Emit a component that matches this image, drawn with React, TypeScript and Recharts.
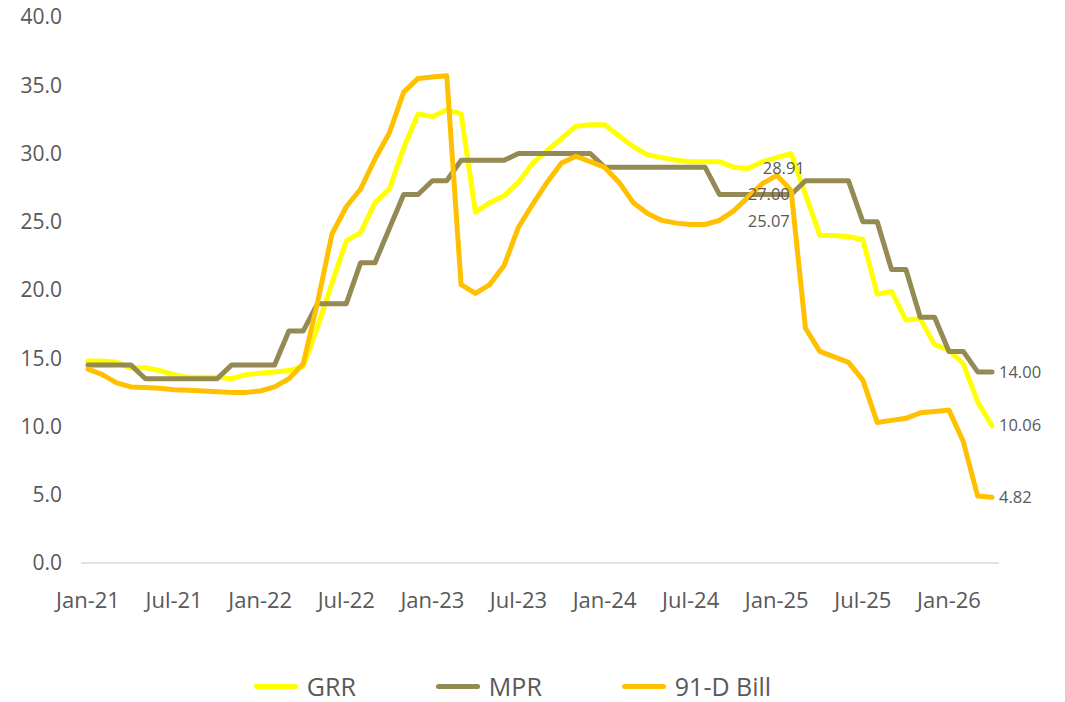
import React from "react";
import { LineChart, Line, XAxis, YAxis, Legend, ReferenceDot } from "recharts";

const monthNames = ["Jan", "Feb", "Mar", "Apr", "May", "Jun", "Jul", "Aug", "Sep", "Oct", "Nov", "Dec"];
const years = ["21", "22", "23", "24", "25", "26"];
const pointCount = 64;
const months: string[] = [];
for (const y of years) for (const m of monthNames) months.push(`${m}-${y}`);
const categories = months.slice(0, pointCount);

const grr = [
  14.8, 14.8, 14.7, 14.3, 14.3, 14.1, 13.8, 13.6, 13.6, 13.6, 13.5, 13.8,
  13.9, 14.0, 14.1, 14.4, 17.3, 20.5, 23.6, 24.2, 26.4, 27.4, 30.4, 32.9,
  32.7, 33.2, 32.9, 25.7, 26.4, 26.9, 27.9, 29.3, 30.2, 31.1, 32.0, 32.1,
  32.1, 31.3, 30.5, 29.9, 29.7, 29.5, 29.4, 29.4, 29.4, 29.0, 28.9, 29.4,
  29.7, 30.0, 27.0, 24.0, 24.0, 23.9, 23.7, 19.7, 19.9, 17.8, 17.9, 16.0,
  15.6, 14.6, 11.8, 10.06,
];

const mpr = [
  14.5, 14.5, 14.5, 14.5, 13.5, 13.5, 13.5, 13.5, 13.5, 13.5, 14.5, 14.5,
  14.5, 14.5, 17.0, 17.0, 19.0, 19.0, 19.0, 22.0, 22.0, 24.5, 27.0, 27.0,
  28.0, 28.0, 29.5, 29.5, 29.5, 29.5, 30.0, 30.0, 30.0, 30.0, 30.0, 30.0,
  29.0, 29.0, 29.0, 29.0, 29.0, 29.0, 29.0, 29.0, 27.0, 27.0, 27.0, 27.0,
  27.0, 27.0, 28.0, 28.0, 28.0, 28.0, 25.0, 25.0, 21.5, 21.5, 18.0, 18.0,
  15.5, 15.5, 14.0, 14.0,
];

const bill91 = [
  14.2, 13.8, 13.2, 12.9, 12.85, 12.8, 12.7, 12.65, 12.6, 12.55, 12.5, 12.5,
  12.6, 12.9, 13.5, 14.6, 19.1, 24.1, 26.1, 27.4, 29.6, 31.5, 34.5, 35.5,
  35.6, 35.7, 20.4, 19.75, 20.4, 21.8, 24.6, 26.3, 27.9, 29.3, 29.8, 29.4,
  29.0, 27.9, 26.4, 25.6, 25.1, 24.9, 24.8, 24.8, 25.1, 25.8, 26.8, 27.8,
  28.4, 27.3, 17.2, 15.5, 15.1, 14.7, 13.4, 10.3, 10.45, 10.6, 11.0, 11.1,
  11.2, 8.9, 4.9, 4.82,
];

const yTicks = [0, 5, 10, 15, 20, 25, 30, 35, 40];
const annotationCategory = "Jan-25";
const annotationValues = [28.91, 27.0, 25.07];
const annotationShift = [7, -8, -8];

const seriesNames = ["GRR", "MPR", "91-D Bill"];
const seriesColors = ["#FFFF00", "#948A54", "#FFC000"];

const data = categories.map((c, i) => ({
  month: c,
  grr: grr[i],
  mpr: mpr[i],
  bill: bill91[i],
}));

const FONT = "'Open Sans', 'Liberation Sans', sans-serif";
const TEXT = "#595959";

const endLabel = (decimals: number) => (props: any) => {
  const { x, y, index, value } = props;
  if (index !== pointCount - 1) return null;
  return (
    <text
      x={x + 7}
      y={y}
      dy="0.35em"
      fill={TEXT}
      fontSize={16.5}
      fontFamily={FONT}
      textAnchor="start"
    >
      {Number(value).toFixed(decimals)}
    </text>
  );
};

const LegendContent = () => (
  <div
    style={{
      height: 40,
      paddingTop: 8,
      boxSizing: "border-box",
      display: "flex",
      justifyContent: "center",
      alignItems: "center",
      paddingLeft: 18,
      fontFamily: FONT,
      fontSize: 25,
      color: TEXT,
    }}
  >
    {seriesNames.map((n, i) => (
      <div
        key={n}
        style={{ display: "flex", alignItems: "center", marginLeft: i === 0 ? 0 : 80 }}
      >
        <div
          style={{
            width: 44,
            height: 5,
            borderRadius: 3,
            background: seriesColors[i],
            marginRight: 9,
          }}
        />
        <span style={{ lineHeight: "28px" }}>{n}</span>
      </div>
    ))}
  </div>
);

export default function App() {
  return (
    <div style={{ width: 1057, height: 702, marginTop: -8, background: "#fff" }}>
      <LineChart
        width={1057}
        height={702}
        data={data}
        margin={{ top: 17, right: 66, left: 0, bottom: 0 }}
      >
        <XAxis
          dataKey="month"
          interval={5}
          padding={{ left: 7, right: 7 }}
          axisLine={{ stroke: "#D9D9D9", strokeWidth: 1.5 }}
          tickLine={false}
          tickMargin={23}
          height={99}
          tick={{ fill: TEXT, fontSize: 22, fontFamily: FONT }}
        />
        <YAxis
          width={73}
          domain={[0, 40]}
          ticks={yTicks}
          interval={0}
          axisLine={false}
          tickLine={false}
          tickMargin={13}
          tickFormatter={(v: number) => v.toFixed(1)}
          tick={{ fill: TEXT, fontSize: 21, fontFamily: FONT }}
        />
        <Legend verticalAlign="bottom" height={40} content={<LegendContent />} />
        <Line
          type="linear"
          dataKey="grr"
          name={seriesNames[0]}
          stroke={seriesColors[0]}
          strokeWidth={5}
          dot={false}
          strokeLinejoin="round"
          strokeLinecap="round"
          isAnimationActive={false}
          label={endLabel(2)}
        />
        <Line
          type="linear"
          dataKey="mpr"
          name={seriesNames[1]}
          stroke={seriesColors[1]}
          strokeWidth={5}
          dot={false}
          strokeLinejoin="round"
          strokeLinecap="round"
          isAnimationActive={false}
          label={endLabel(2)}
        />
        <Line
          type="linear"
          dataKey="bill"
          name={seriesNames[2]}
          stroke={seriesColors[2]}
          strokeWidth={5}
          dot={false}
          strokeLinejoin="round"
          strokeLinecap="round"
          isAnimationActive={false}
          label={endLabel(2)}
        />
        {annotationValues.map((v, i) => (
          <ReferenceDot
            key={i}
            x={annotationCategory}
            y={v}
            r={0}
            fill="none"
            stroke="none"
            label={(p: any) => {
              const vb = p.viewBox || {};
              const cx = (vb.x ?? 0) + (vb.width ?? 0) / 2 + annotationShift[i];
              const cy = (vb.y ?? 0) + (vb.height ?? 0) / 2;
              return (
                <text
                  x={cx}
                  y={cy}
                  dy="0.35em"
                  textAnchor="middle"
                  fill={TEXT}
                  fontSize={16.5}
                  fontFamily={FONT}
                >
                  {v.toFixed(2)}
                </text>
              );
            }}
          />
        ))}
      </LineChart>
    </div>
  );
}
